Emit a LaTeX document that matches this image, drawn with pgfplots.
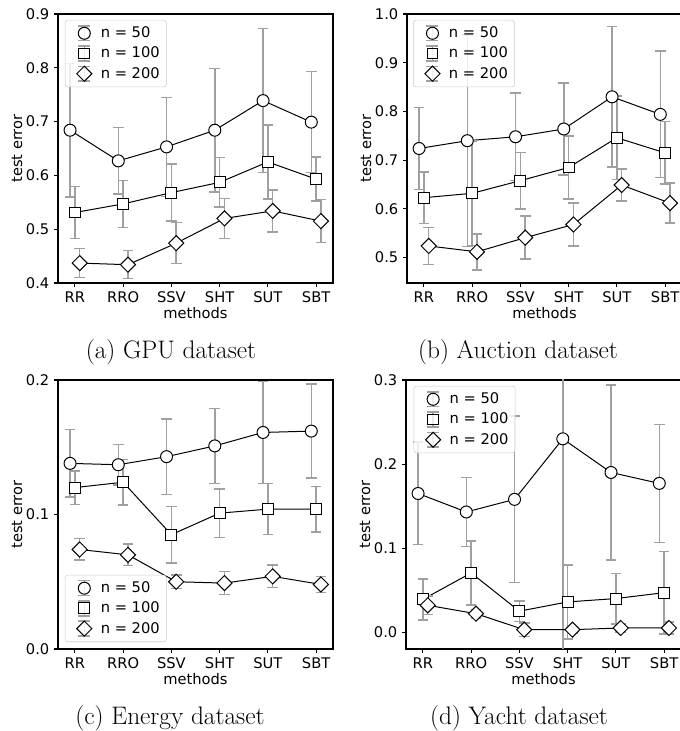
\documentclass[border=0pt]{standalone}
\usepackage{fontspec}
\usepackage{pgfplots}
\pgfplotsset{compat=1.18}
\newfontfamily\dv{DejaVu Sans}
\definecolor{errcol}{RGB}{160,160,160}
\definecolor{legframe}{RGB}{204,204,204}

\pgfplotsset{
  panel/.style={
    scale only axis, width=206.25pt, height=201.75pt,
    xmin=-0.35, xmax=5.35,
    xtick={0,1,2,3,4,5}, xticklabels={RR,RRO,SSV,SHT,SUT,SBT},
    tick pos=left, tick align=outside, major tick length=3pt,
    axis line style={line width=0.8pt},
    every tick/.style={black, line width=0.8pt},
    tick label style={font=\dv\fontsize{11}{13}\selectfont},
    label style={font=\dv\fontsize{11}{13}\selectfont},
    xlabel style={at={(axis description cs:0.5,-0.112)}, anchor=center},
    ylabel style={at={(axis description cs:-0.149,0.5)}, anchor=center},
    /pgf/number format/assume math mode=true,
    yticklabel style={/pgf/number format/.cd, fixed, fixed zerofill, precision=1},
    xlabel={methods}, ylabel={test error},
    legend cell align=left,
    legend style={font=\dv\fontsize{11}{13}\selectfont, draw=legframe,
      rounded corners=2pt, fill=white, fill opacity=0.8, text opacity=1,
      row sep=1.5pt, inner sep=3pt},
  },
  errleg/.style={legend image code/.code={
    \path (0pt,0pt) (21pt,0pt);
    \draw[errcol, line width=1.1pt] (11pt,-5.6pt) -- (11pt,5.6pt)
      (6.5pt,-5.6pt) -- (15.5pt,-5.6pt)
      (6.5pt,5.6pt) -- (15.5pt,5.6pt);
    \draw plot coordinates {(11pt,0pt)};
  }},
  ebar/.style={black, line width=0.75pt, errleg,
      error bars/y dir=both, error bars/y explicit,
      error bars/error bar style={errcol, line width=1.1pt},
      error bars/error mark options={rotate=90, errcol, mark size=4pt, line width=1.1pt}},
  s50/.style={ebar, mark=*, mark size=4.5pt, mark options={fill=white, draw=black, line width=0.75pt}},
  s100/.style={ebar, mark=square*, mark size=4.1pt, mark options={fill=white, draw=black, line width=0.75pt}},
  s200/.style={ebar, mark=square*, mark size=4pt, mark options={rotate=45, fill=white, draw=black, line width=0.75pt}},
}

\begin{document}
\begin{tikzpicture}
\useasboundingbox (0,0) rectangle (509.25pt,548.25pt);

% (a) GPU
\begin{axis}[panel, at={(43.5pt,336pt)}, anchor=south west,
  ymin=0.4, ymax=0.9, ytick={0.4,0.5,0.6,0.7,0.8,0.9},
  legend style={at={(axis description cs:0.025,0.978)}, anchor=north west}]
\addplot[s50] table[x=x, y=y, y error=e] {
x y e
-0.1 0.684 0.124
0.9 0.627 0.062
1.9 0.653 0.092
2.9 0.684 0.115
3.9 0.739 0.134
4.9 0.699 0.094
};
\addplot[s100] table[x=x, y=y, y error=e] {
x y e
0 0.531 0.048
1 0.547 0.044
2 0.568 0.053
3 0.587 0.046
4 0.625 0.069
5 0.593 0.041
};
\addplot[s200] table[x=x, y=y, y error=e] {
x y e
0.1 0.437 0.027
1.1 0.434 0.026
2.1 0.474 0.038
3.1 0.520 0.037
4.1 0.534 0.039
5.1 0.515 0.040
};
\legend{n = 50, n = 100, n = 200}
\end{axis}

% (b) Auction
\begin{axis}[panel, at={(305.25pt,336pt)}, anchor=south west,
  ymin=0.448, ymax=1.0, ytick={0.5,0.6,0.7,0.8,0.9,1.0},
  legend style={at={(axis description cs:0.022,0.978)}, anchor=north west}]
\addplot[s50] table[x=x, y=y, y error=e] {
x y e
-0.1 0.724 0.084
0.9 0.740 0.217
1.9 0.748 0.090
2.9 0.764 0.094
3.9 0.830 0.144
4.9 0.794 0.130
};
\addplot[s100] table[x=x, y=y, y error=e] {
x y e
0 0.623 0.053
1 0.632 0.107
2 0.658 0.058
3 0.685 0.065
4 0.746 0.086
5 0.715 0.064
};
\addplot[s200] table[x=x, y=y, y error=e] {
x y e
0.1 0.524 0.038
1.1 0.512 0.037
2.1 0.541 0.044
3.1 0.568 0.044
4.1 0.649 0.033
5.1 0.612 0.041
};
\legend{n = 50, n = 100, n = 200}
\end{axis}

% (c) Energy
\begin{axis}[panel, at={(43.5pt,61.5pt)}, anchor=south west,
  ymin=0, ymax=0.2, ytick={0,0.1,0.2},
  legend style={at={(axis description cs:0.025,0.026)}, anchor=south west}]
\addplot[s50] table[x=x, y=y, y error=e] {
x y e
-0.1 0.138 0.025
0.9 0.137 0.015
1.9 0.143 0.028
2.9 0.151 0.028
3.9 0.161 0.038
4.9 0.162 0.035
};
\addplot[s100] table[x=x, y=y, y error=e] {
x y e
0 0.120 0.0125
1 0.124 0.017
2 0.085 0.021
3 0.101 0.018
4 0.104 0.019
5 0.104 0.017
};
\addplot[s200] table[x=x, y=y, y error=e] {
x y e
0.1 0.074 0.008
1.1 0.070 0.008
2.1 0.050 0.005
3.1 0.049 0.0085
4.1 0.054 0.0083
5.1 0.048 0.006
};
\legend{n = 50, n = 100, n = 200}
\end{axis}

% (d) Yacht
\begin{axis}[panel, at={(304.5pt,61.5pt)}, anchor=south west,
  ymin=-0.02, ymax=0.3, ytick={0,0.1,0.2,0.3},
  legend style={at={(axis description cs:0.028,0.978)}, anchor=north west}]
\addplot[s50] table[x=x, y=y, y error=e] {
x y e
-0.1 0.165 0.061
0.9 0.143 0.041
1.9 0.158 0.099
2.9 0.230 0.300
3.9 0.190 0.104
4.9 0.177 0.070
};
\addplot[s100] table[x=x, y=y, y error=e] {
x y e
0 0.039 0.0245
1 0.0705 0.038
2 0.025 0.012
3 0.036 0.044
4 0.040 0.030
5 0.047 0.049
};
\addplot[s200] table[x=x, y=y, y error=e] {
x y e
0.1 0.032 0.011
1.1 0.022 0.005
2.1 0.003 0.008
3.1 0.003 0.004
4.1 0.005 0.005
5.1 0.005 0.007
};
\legend{n = 50, n = 100, n = 200}
\end{axis}

\node[font=\fontsize{19}{22}\selectfont] at (128.25pt,284.25pt) {(a) GPU dataset};
\node[font=\fontsize{19}{22}\selectfont] at (388.5pt,284.25pt) {(b) Auction dataset};
\node[font=\fontsize{19}{22}\selectfont] at (127.5pt,9.75pt) {(c) Energy dataset};
\node[font=\fontsize{19}{22}\selectfont] at (389.25pt,9.75pt) {(d) Yacht dataset};
\end{tikzpicture}
\end{document}
